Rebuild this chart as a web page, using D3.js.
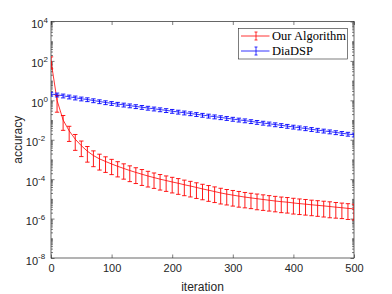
<!DOCTYPE html>
<html>
<head>
<meta charset="utf-8">
<script src="https://cdn.jsdelivr.net/npm/d3@7/dist/d3.min.js"></script>
<style>
	html, body { margin: 0; padding: 0; background: #fff; }
	svg { display: block; }
</style>
</head>
<body>
<div id="chart"></div>
<script>
// iterations at which error bars are drawn
var iterations = d3.range(0, 501, 10);

var seriesNames = ['Our Algorithm', 'DiaDSP'];

var redMean = [100, 1.0, 0.1, 0.0282, 0.0107, 5.0e-3, 2.63e-3, 1.58e-3, 1.07e-3, 7.9e-4,
	5.9e-4, 4.5e-4, 3.5e-4, 2.75e-4, 2.2e-4, 1.78e-4, 1.45e-4, 1.2e-4, 1.0e-4, 8.5e-5,
	7.2e-5, 6.2e-5, 5.2e-5, 4.5e-5, 3.8e-5, 3.2e-5, 2.75e-5, 2.35e-5, 2.0e-5, 1.74e-5,
	1.55e-5, 1.38e-5, 1.23e-5, 1.12e-5, 1.02e-5, 9.3e-6, 8.5e-6, 7.8e-6, 7.2e-6, 6.8e-6,
	6.2e-6, 5.75e-6, 5.4e-6, 5.0e-6, 4.7e-6, 4.4e-6, 4.1e-6, 3.8e-6, 3.55e-6, 3.3e-6, 3.1e-6];

var redErr = [60, 0.75, 0.07, 0.02, 0.0078, 3.6e-3, 1.9e-3, 1.15e-3, 7.8e-4, 5.7e-4,
	4.2e-4, 3.2e-4, 2.5e-4, 2.0e-4, 1.6e-4, 1.3e-4, 1.05e-4, 8.6e-5, 7.2e-5, 6.1e-5,
	5.2e-5, 4.5e-5, 3.75e-5, 3.25e-5, 2.75e-5, 2.3e-5, 2.0e-5, 1.7e-5, 1.45e-5, 1.25e-5,
	1.12e-5, 1.0e-5, 8.8e-6, 8.0e-6, 7.4e-6, 6.7e-6, 6.1e-6, 5.6e-6, 5.2e-6, 4.9e-6,
	4.5e-6, 4.15e-6, 3.9e-6, 3.6e-6, 3.4e-6, 3.2e-6, 3.0e-6, 2.75e-6, 2.55e-6, 2.4e-6, 2.25e-6];

var blueMean = [2.09, 1.91, 1.70, 1.51, 1.35, 1.20, 1.10, 0.977, 0.871, 0.776,
	0.708, 0.646, 0.589, 0.537, 0.490, 0.447, 0.407, 0.372, 0.339, 0.309,
	0.282, 0.257, 0.234, 0.214, 0.195, 0.178, 0.162, 0.148, 0.135, 0.123,
	0.112, 0.102, 0.0933, 0.0851, 0.0776, 0.0708, 0.0646, 0.0589, 0.0537, 0.0490,
	0.0447, 0.0407, 0.0372, 0.0339, 0.0309, 0.0282, 0.0257, 0.0234, 0.0214, 0.0195, 0.0178];

var blueErr = [0.46, 0.42, 0.37, 0.33, 0.30, 0.26, 0.24, 0.215, 0.19, 0.17,
	0.155, 0.14, 0.13, 0.118, 0.108, 0.098, 0.09, 0.082, 0.075, 0.068,
	0.062, 0.057, 0.052, 0.047, 0.043, 0.039, 0.036, 0.033, 0.03, 0.027,
	0.025, 0.0225, 0.0205, 0.0187, 0.0171, 0.0156, 0.0142, 0.013, 0.0118, 0.0108,
	0.0098, 0.009, 0.0082, 0.0075, 0.0068, 0.0062, 0.0057, 0.0052, 0.0047, 0.0043, 0.0039];

var xTicks = [0, 100, 200, 300, 400, 500];
var yTickExp = [4, 2, 0, -2, -4, -6, -8];

(function(d3){
	'use strict';

	var W = 392, H = 294;
	var margin = { top: 21.5, right: 38, bot: 36, left: 51 };
	var axisColor = '#262626';
	var colors = ['#ff0000', '#0000ff'];

	var svg = d3.select('#chart').append('svg')
		.attr('width', W).attr('height', H)
		.style('font-family', '"Liberation Sans", Arial, sans-serif');

	var xScale = d3.scaleLinear().domain([0, 500]).range([margin.left, W - margin.right]);
	var yScale = d3.scaleLog().domain([1e-8, 1e4]).range([H - margin.bot, margin.top]);

	var x0 = xScale.range()[0], x1 = xScale.range()[1];
	var y0 = yScale.range()[0], y1 = yScale.range()[1];

	// minor log ticks
	var minorVals = [];
	for (var e = -8; e < 4; e++) {
		for (var j = 1; j < 10; j++) {
			if (j === 1 && e % 2 === 0) continue;
			minorVals.push(j * Math.pow(10, e));
		}
	}

	function styleAxis(g) {
		g.select('.domain').remove();
		g.selectAll('line').attr('stroke', axisColor).attr('stroke-width', 0.6);
		g.selectAll('text').attr('fill', axisColor);
	}

	// x axis bottom + top
	svg.append('g')
		.attr('transform', 'translate(0,' + y0 + ')')
		.call(d3.axisBottom(xScale).tickValues(xTicks).tickSizeInner(-3.5).tickSizeOuter(0).tickPadding(6))
		.call(styleAxis)
		.selectAll('text').attr('font-size', 11);
	svg.append('g')
		.attr('transform', 'translate(0,' + y1 + ')')
		.call(d3.axisTop(xScale).tickValues(xTicks).tickSizeInner(-3.5).tickSizeOuter(0).tickFormat(''))
		.call(styleAxis);

	// y axis left + right, major
	var yMajor = yTickExp.map(function(p){ return Math.pow(10, p); });
	var left = svg.append('g')
		.attr('transform', 'translate(' + x0 + ',0)')
		.call(d3.axisLeft(yScale).tickValues(yMajor).tickSizeInner(-3.5).tickSizeOuter(0).tickPadding(8).tickFormat(''))
		.call(styleAxis);
	left.selectAll('.tick text')
		.attr('font-size', 11)
		.attr('dy', '0.55em')
		.each(function(d, i){
			var t = d3.select(this);
			t.text(null);
			t.append('tspan').text('10');
			t.append('tspan')
				.attr('dy', '-0.65em')
				.attr('font-size', 8)
				.text(String(yTickExp[i]));
		})
		.attr('dx', function(d, i){ return yTickExp[i] < 0 ? '0.2em' : '0.45em'; });

	svg.append('g')
		.attr('transform', 'translate(' + x1 + ',0)')
		.call(d3.axisRight(yScale).tickValues(yMajor).tickSizeInner(-3.5).tickSizeOuter(0).tickFormat(''))
		.call(styleAxis);

	// minor ticks
	svg.append('g')
		.attr('transform', 'translate(' + x0 + ',0)')
		.call(d3.axisLeft(yScale).tickValues(minorVals).tickSizeInner(-2).tickSizeOuter(0).tickFormat(''))
		.call(styleAxis);
	svg.append('g')
		.attr('transform', 'translate(' + x1 + ',0)')
		.call(d3.axisRight(yScale).tickValues(minorVals).tickSizeInner(-2).tickSizeOuter(0).tickFormat(''))
		.call(styleAxis);

	// plot box
	svg.append('rect')
		.attr('x', x0).attr('y', y1)
		.attr('width', x1 - x0).attr('height', y0 - y1)
		.attr('fill', 'none').attr('stroke', axisColor).attr('stroke-width', 0.7);

	// series
	var series = [
		{ name: seriesNames[0], mean: redMean, err: redErr, color: colors[0] },
		{ name: seriesNames[1], mean: blueMean, err: blueErr, color: colors[1] }
	];

	svg.append('clipPath').attr('id', 'plotclip')
		.append('rect').attr('x', x0).attr('y', y1).attr('width', x1 - x0).attr('height', y0 - y1);

	var line = d3.line()
		.x(function(d){ return xScale(d.it); })
		.y(function(d){ return yScale(d.m); });

	var plot = svg.append('g').attr('clip-path', 'url(#plotclip)');
	var capW = 2.2;

	series.forEach(function(s){
		var pts = iterations.map(function(it, i){
			return { it: it, m: s.mean[i], lo: Math.max(s.mean[i] - s.err[i], 1e-9), hi: s.mean[i] + s.err[i] };
		});
		var g = plot.append('g');
		g.append('path')
			.datum(pts)
			.attr('d', line)
			.attr('fill', 'none')
			.attr('stroke', s.color)
			.attr('stroke-width', 0.8);
		var bars = g.selectAll('g.bar').data(pts).enter().append('g').attr('class', 'bar')
			.attr('stroke', s.color).attr('stroke-width', 0.9);
		bars.append('line')
			.attr('x1', function(d){ return xScale(d.it); })
			.attr('x2', function(d){ return xScale(d.it); })
			.attr('y1', function(d){ return yScale(d.lo); })
			.attr('y2', function(d){ return yScale(d.hi); });
		['lo', 'hi'].forEach(function(k){
			bars.append('line')
				.attr('x1', function(d){ return xScale(d.it) - capW; })
				.attr('x2', function(d){ return xScale(d.it) + capW; })
				.attr('y1', function(d){ return yScale(d[k]); })
				.attr('y2', function(d){ return yScale(d[k]); });
		});
	});

	// axis labels
	svg.append('text')
		.attr('x', (x0 + x1) / 2).attr('y', 291)
		.attr('text-anchor', 'middle')
		.attr('font-size', 12).attr('fill', axisColor)
		.text('iteration');
	svg.append('text')
		.attr('transform', 'translate(22,' + ((y0 + y1) / 2) + ') rotate(-90)')
		.attr('text-anchor', 'middle')
		.attr('font-size', 12).attr('fill', axisColor)
		.text('accuracy');

	// legend
	var lg = svg.append('g').attr('transform', 'translate(238.5,28.5)');
	lg.append('rect')
		.attr('width', 109).attr('height', 30.5)
		.attr('fill', '#fff').attr('stroke', axisColor).attr('stroke-width', 0.6);
	series.forEach(function(s, i){
		var cy = 7.5 + i * 15;
		var row = lg.append('g').attr('transform', 'translate(0,' + cy + ')');
		row.append('line').attr('x1', 2.5).attr('x2', 31).attr('y1', 0).attr('y2', 0)
			.attr('stroke', s.color).attr('stroke-width', 0.8);
		row.append('line').attr('x1', 17.5).attr('x2', 17.5).attr('y1', -4).attr('y2', 4)
			.attr('stroke', s.color).attr('stroke-width', 0.8);
		row.append('line').attr('x1', 16).attr('x2', 19).attr('y1', -4).attr('y2', -4)
			.attr('stroke', s.color).attr('stroke-width', 0.8);
		row.append('line').attr('x1', 16).attr('x2', 19).attr('y1', 4).attr('y2', 4)
			.attr('stroke', s.color).attr('stroke-width', 0.8);
		row.append('text')
			.attr('x', 33.5).attr('y', 4)
			.attr('font-family', '"Liberation Serif", "Times New Roman", serif')
			.attr('font-size', 12.5).attr('fill', '#000')
			.text(s.name);
	});

})(d3);
</script>
</body>
</html>
